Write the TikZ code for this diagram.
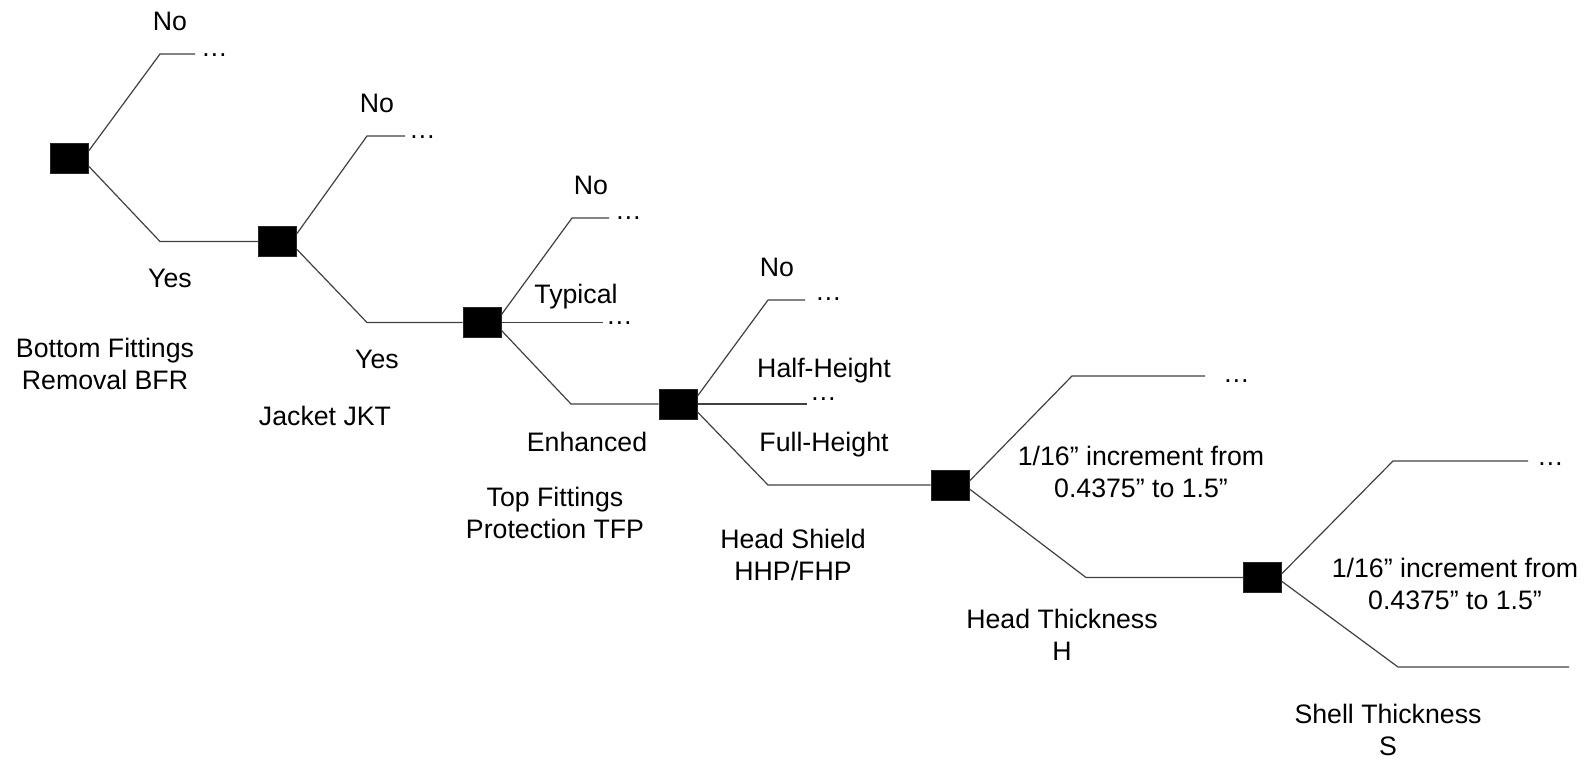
\documentclass[tikz,border=0pt]{standalone}
\usepackage{fontspec}
\setmainfont{Liberation Sans}
\usetikzlibrary{positioning,calc}

\begin{document}
\begin{tikzpicture}[
    x=1pt, y=-1pt,
    font=\fontsize{26.7}{32}\selectfont,
    choice_box/.style={draw=black!85, fill=black, line width=1pt, minimum width=38pt, minimum height=30pt, inner sep=0pt},
    branch/.style={draw=black!75, line width=1.2pt},
    label_txt/.style={anchor=base, inner sep=0pt, align=center},
    more_dots/.style={anchor=base west, inner sep=0pt}
]

\useasboundingbox (0,0) rectangle (1590,761);

\node (bfr) [choice_box] at (69.5,158.5) {};
\node (jkt) [choice_box] at (277.5,241.5) {};
\node (tfp) [choice_box] at (482,322.5) {};
\node (hsh) [choice_box] at (678,404) {};
\node (hth) [choice_box] at (950,485) {};
\node (sth) [choice_box] at (1262.5,577.5) {};

\coordinate (bfr_no_k)  at (160,54);
\coordinate (bfr_no_e)  at (195,54);
\coordinate (bfr_yes_k) at (160,241.5);
\coordinate (jkt_no_k)  at (367,136);
\coordinate (jkt_no_e)  at (405,136);
\coordinate (jkt_yes_k) at (367,322.5);
\coordinate (tfp_no_k)  at (572,218);
\coordinate (tfp_no_e)  at (609,218);
\coordinate (tfp_typ_e) at (603,322.5);
\coordinate (tfp_enh_k) at (571,404);
\coordinate (hsh_no_k)  at (768,300);
\coordinate (hsh_no_e)  at (805,300);
\coordinate (hsh_hh_e)  at (807,404);
\coordinate (hsh_fh_k)  at (768,485);
\coordinate (hth_up_k)  at (1072,376);
\coordinate (hth_up_e)  at (1205,376);
\coordinate (hth_dn_k)  at (1086,577.5);
\coordinate (sth_up_k)  at (1393,461);
\coordinate (sth_up_e)  at (1528,461);
\coordinate (sth_dn_k)  at (1398,667);
\coordinate (sth_dn_e)  at (1569,667);

\node (bfr_dots) [more_dots] at (201,56)    {…};
\node (jkt_dots) [more_dots] at (409,138)   {…};
\node (tfp_dots) [more_dots] at (615,219)   {…};
\node (typ_dots) [more_dots] at (606,324)   {…};
\node (hsh_dots) [more_dots] at (815,300)   {…};
\node (hh_dots)  [more_dots] at (810,400)   {…};
\node (hth_dots) [more_dots] at (1223,382)  {…};
\node (sth_dots) [more_dots] at (1537,465)  {…};

\node (bfr_no)  [label_txt] at (170,30)  {No};
\node (bfr_yes) [label_txt] at (170,287) {Yes};
\node (jkt_no)  [label_txt] at (377,112) {No};
\node (jkt_yes) [label_txt] at (377,368) {Yes};
\node (tfp_no)  [label_txt] at (591,194) {No};
\node (tfp_typ) [label_txt] at (576,303) {Typical};
\node (tfp_enh) [label_txt] at (587,451) {Enhanced};
\node (hsh_no)  [label_txt] at (777,276) {No};
\node (hsh_hh)  [label_txt] at (824,377) {Half-Height};
\node (hsh_fh)  [label_txt] at (824,451) {Full-Height};
\node (hth_inc) [label_txt] at (1141,497) {1/16” increment from\\0.4375” to 1.5”};
\node (sth_inc) [label_txt] at (1455,609) {1/16” increment from\\0.4375” to 1.5”};

\node (bfr_name) [label_txt] at (105,389)  {Bottom Fittings\\Removal BFR};
\node (jkt_name) [label_txt] at (325,425)  {Jacket JKT};
\node (tfp_name) [label_txt] at (555,538)  {Top Fittings\\Protection TFP};
\node (hsh_name) [label_txt] at (793,580)  {Head Shield\\HHP/FHP};
\node (hth_name) [label_txt] at (1062,660) {Head Thickness\\H};
\node (sth_name) [label_txt] at (1388,755) {Shell Thickness\\S};

\draw [branch] ([yshift=8pt]bfr.east)  -- (bfr_no_k) -- (bfr_no_e);
\draw [branch] ([yshift=-8pt]bfr.east) -- (bfr_yes_k) -- (jkt.west);
\draw [branch] ([yshift=8pt]jkt.east)  -- (jkt_no_k) -- (jkt_no_e);
\draw [branch] ([yshift=-8pt]jkt.east) -- (jkt_yes_k) -- (tfp.west);
\draw [branch] ([yshift=8pt]tfp.east)  -- (tfp_no_k) -- (tfp_no_e);
\draw [branch] (tfp.east) -- (tfp_typ_e);
\draw [branch] ([yshift=-8pt]tfp.east) -- (tfp_enh_k) -- (hsh.west);
\draw [branch] ([yshift=8pt]hsh.east)  -- (hsh_no_k) -- (hsh_no_e);
\draw [branch] (hsh.east) -- (hsh_hh_e);
\draw [branch] ([yshift=-8pt]hsh.east) -- (hsh_fh_k) -- (hth.west);
\draw [branch] ([yshift=4pt]hth.east)  -- (hth_up_k) -- (hth_up_e);
\draw [branch] ([yshift=-4pt]hth.east) -- (hth_dn_k) -- (sth.west);
\draw [branch] ([yshift=4pt]sth.east)  -- (sth_up_k) -- (sth_up_e);
\draw [branch] ([yshift=-4pt]sth.east) -- (sth_dn_k) -- (sth_dn_e);

\end{tikzpicture}
\end{document}
